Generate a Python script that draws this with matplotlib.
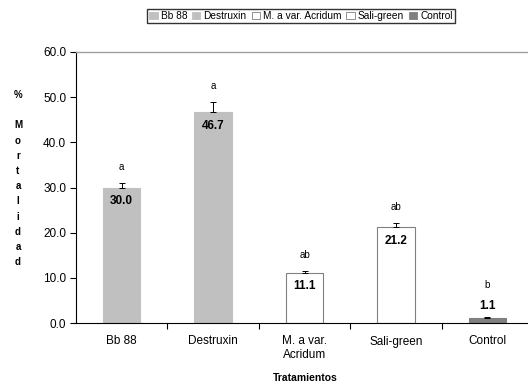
import numpy as np
import matplotlib
matplotlib.use('Agg')
from matplotlib import pyplot as plt
from matplotlib.patches import Patch

plt.rcParams['font.family'] = ['Liberation Sans', 'DejaVu Sans']

## Data: mean mortality per treatment, error and significance letters
tratamientos = ['Bb 88', 'Destruxin', 'M. a var. Acridum', 'Sali-green', 'Control']
etiquetas = ['Bb 88', 'Destruxin', 'M. a var.\nAcridum', 'Sali-green', 'Control']
mortalidad = [30.0, 46.7, 11.1, 21.2, 1.1]
error = [1.0, 2.2, 0.5, 1.0, 0.3]
letras = ['a', 'a', 'ab', 'ab', 'b']

colores = ['#c0c0c0', '#c0c0c0', 'white', 'white', '#808080']
bordes = ['#c0c0c0', '#c0c0c0', '#808080', '#808080', '#808080']

fig = plt.figure(figsize=(5.28, 3.85), dpi=100)
ax = fig.add_axes([76/528, 62/385, 457/528, 271/385])

x = np.arange(len(mortalidad))
ax.bar(x, mortalidad, width=0.41, color=colores, edgecolor=bordes, linewidth=0.8, zorder=2)
ax.errorbar(x, mortalidad, yerr=[np.zeros(len(error)), error], fmt='none',
            ecolor='black', elinewidth=0.7, capsize=2, capthick=0.7, zorder=3)

# value labels: inside the bar when there is room, above it otherwise
for xi, m, e, l in zip(x, mortalidad, error, letras):
    if m > 5:
        ax.text(xi, m - 3.0, '{0:.1f}'.format(m), ha='center', va='center',
                fontsize=8.5, fontweight='bold', zorder=4)
        yl = m + e + 3.5
    else:
        ax.text(xi, m + 2.6, '{0:.1f}'.format(m), ha='center', va='center',
                fontsize=8.5, fontweight='bold', zorder=4)
        yl = m + 7.3
    ax.text(xi, yl, l, ha='center', va='center', fontsize=7, zorder=4)

ax.set_xlim(-0.5, 4.5)
ax.set_ylim(0, 60)
ax.set_yticks(np.arange(0, 61, 10))
ax.set_yticklabels(['{0:.1f}'.format(v) for v in np.arange(0, 61, 10)], fontsize=8.5)

ax.set_xticks(x)
ax.set_xticklabels(etiquetas, fontsize=8.5)
ax.set_xticks(np.arange(0.5, 4.5, 1), minor=True)
ax.tick_params(axis='x', which='major', length=0, pad=9)
ax.tick_params(axis='x', which='minor', length=4, width=0.8, direction='out')
ax.tick_params(axis='y', length=4, width=0.8, direction='out', pad=3)

ax.spines['right'].set_visible(False)
ax.spines['top'].set_color('#a0a0a0')
ax.spines['top'].set_linewidth(1.0)
ax.spines['left'].set_linewidth(0.8)
ax.spines['bottom'].set_linewidth(0.8)

# axis titles
fig.text(305/528, 1 - 378/385, 'Tratamientos', ha='center', va='center',
         fontsize=7.5, fontweight='bold')
fig.text(18/528, 1 - 90/385, '%\n\nM\no\nr\nt\na\nl\ni\nd\na\nd', ha='center', va='top',
         fontsize=7, fontweight='bold', linespacing=1.65)

# legend across the top
handles = [Patch(facecolor=c, edgecolor=b, linewidth=0.6) for c, b in zip(colores, bordes)]
fig.legend(handles, tratamientos, loc='center', bbox_to_anchor=(301/528, 1 - 16/385),
           ncol=5, fontsize=7.3, frameon=True, fancybox=False, edgecolor='black',
           handlelength=0.8, handleheight=0.8, handletextpad=0.3, columnspacing=0.5,
           borderpad=0.2, borderaxespad=0)

fig.savefig('out.png', dpi=100)
